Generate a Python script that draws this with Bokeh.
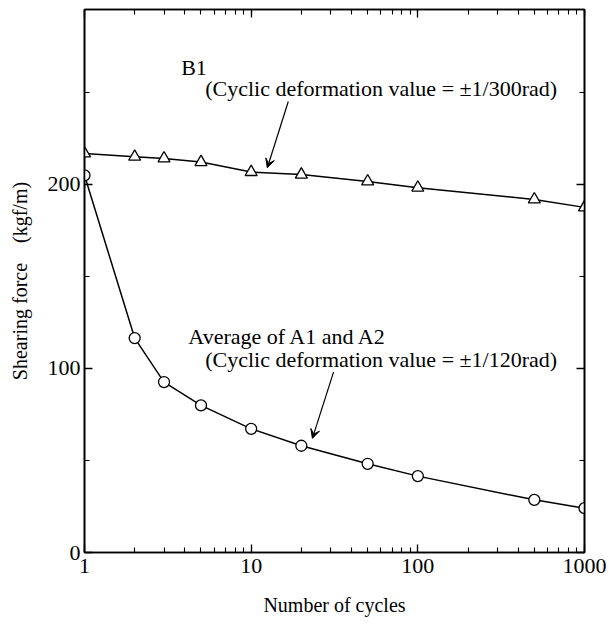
import math
from bokeh.plotting import figure
from bokeh.models import (Range1d, LinearAxis, LogAxis, FixedTicker, LogTicker,
                          Label, Arrow, VeeHead, CustomJSTickFormatter)
from bokeh.embed import file_html
from bokeh.resources import INLINE

# ---- data ----
cycles = [1, 2, 3, 5, 10, 20, 50, 100, 500, 1000]
b1_force = [216.8, 215.0, 214.1, 212.1, 206.7, 205.3, 201.6, 198.2, 191.8, 187.5]
avg_a_force = [204.9, 116.5, 92.6, 79.9, 67.2, 58.0, 48.2, 41.5, 28.6, 24.1]

y_major = [0, 100, 200]
y_minor = [50, 150, 250]
x_label = "Number of cycles"
y_label = "Shearing force\u2002\u2002(kgf/m)"

FONT = "Liberation Serif"

p = figure(width=609, height=624, x_axis_type="log",
           x_range=Range1d(1, 1000), y_range=Range1d(0, 295),
           output_backend="svg", toolbar_location=None,
           min_border_left=84, min_border_right=25,
           min_border_top=9, min_border_bottom=72)
p.background_fill_color = "white"
p.border_fill_color = "white"
p.outline_line_color = "black"
p.outline_line_width = 1.6
p.xgrid.visible = False
p.ygrid.visible = False

def style_axis(ax, labels=True):
    ax.axis_line_color = "black"
    ax.axis_line_width = 1.6
    ax.major_tick_in = 8
    ax.major_tick_out = 0
    ax.minor_tick_in = 5
    ax.minor_tick_out = 0
    ax.major_tick_line_color = "black"
    ax.minor_tick_line_color = "black"
    ax.major_tick_line_width = 1.3
    ax.minor_tick_line_width = 1.1
    ax.major_label_text_font = FONT
    ax.major_label_text_font_size = "22px"
    ax.major_label_text_color = "black"
    ax.axis_label_text_font = FONT
    ax.axis_label_text_font_style = "normal"
    ax.axis_label_text_font_size = "20px"
    ax.axis_label_text_color = "black"
    if not labels:
        ax.major_label_text_font_size = "0px"
        ax.major_label_text_alpha = 0

p.yaxis.ticker = FixedTicker(ticks=y_major, minor_ticks=y_minor)
p.xaxis.ticker = LogTicker(num_minor_ticks=10)
p.xaxis.formatter = CustomJSTickFormatter(code="return Math.round(tick).toString();")
style_axis(p.xaxis[0])
style_axis(p.yaxis[0])
p.xaxis.major_label_standoff = 6
p.yaxis.major_label_standoff = 4
p.xaxis.axis_label = x_label
p.xaxis.axis_label_standoff = 18
p.yaxis.axis_label = y_label
p.yaxis.axis_label_standoff = 14

ra = LinearAxis(ticker=FixedTicker(ticks=y_major, minor_ticks=y_minor))
style_axis(ra, labels=False)
p.add_layout(ra, "right")
ta = LogAxis(ticker=LogTicker(num_minor_ticks=10))
style_axis(ta, labels=False)
p.add_layout(ta, "above")

# ---- series ----
p.line(cycles, b1_force, line_color="black", line_width=1.5)
p.scatter(cycles, b1_force, marker="triangle", size=12, fill_color="white",
          line_color="black", line_width=1.3)
p.line(cycles, avg_a_force, line_color="black", line_width=1.5)
p.scatter(cycles, avg_a_force, marker="circle", size=11, fill_color="white",
          line_color="black", line_width=1.3)

# ---- annotations ----
def lab(x, y, t):
    p.add_layout(Label(x=x, y=y, text=t, text_font=FONT, text_font_size="22px",
                       text_color="black", text_baseline="alphabetic"))

lab(3.8, 263.5, "B1")
lab(5.3, 252, "(Cyclic deformation value = \u00b11/300rad)")
lab(4.2, 117.5, "Average of A1 and A2")
lab(5.3, 105, "(Cyclic deformation value = \u00b11/120rad)")

p.add_layout(Arrow(x_start=16.7, y_start=245, x_end=12.5, y_end=209,
                   line_color="black", line_width=1.2,
                   end=VeeHead(size=9, fill_color="black", line_color="black")))
p.add_layout(Arrow(x_start=31.2, y_start=98, x_end=23.3, y_end=62,
                   line_color="black", line_width=1.2,
                   end=VeeHead(size=9, fill_color="black", line_color="black")))

open("out.html", "w").write(file_html(p, INLINE))
